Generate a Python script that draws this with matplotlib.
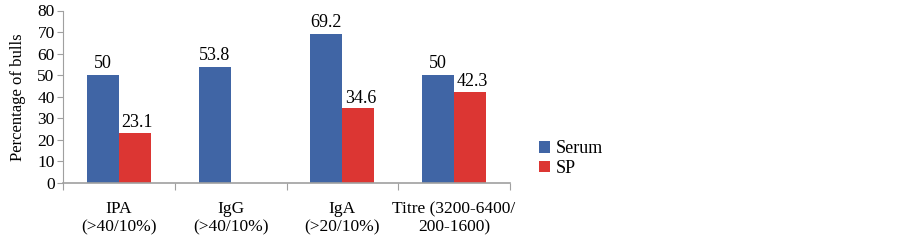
import numpy as np
import matplotlib.pyplot as plt

categories = ["IPA\n(>40/10%)", "IgG\n(>40/10%)", "IgA\n(>20/10%)", "Titre (3200-6400/\n200-1600)"]
serum = [50, 53.8, 69.2, 50]
sp = [23.1, None, 34.6, 42.3]
serum_labels = ["50", "53.8", "69.2", "50"]
sp_labels = ["23.1", "", "34.6", "42.3"]

plt.rcParams['font.family'] = ['Liberation Serif', 'DejaVu Serif']

fig = plt.figure(figsize=(9.02, 2.4), dpi=100)
ax = fig.add_axes([63 / 902, 1 - 183 / 240, (510 - 63) / 902, (183 - 10.5) / 240])

x = np.arange(len(categories))
w = 0.286
blue = "#4065a5"
red = "#dc3633"

sp_vals = [v if v is not None else 0 for v in sp]
b1 = ax.bar(x - w / 2, serum, w, color=blue, label="Serum")
b2 = ax.bar(x + w / 2, sp_vals, w, color=red, label="SP")

for i in range(len(categories)):
    ax.text(x[i] - w / 2, serum[i] + 1.5, serum_labels[i], ha="center", va="bottom", fontsize=13)
    if sp[i] is not None:
        ax.text(x[i] + w / 2 + 0.02, sp[i] + 0.8, sp_labels[i], ha="center", va="bottom", fontsize=13)

ax.set_xlim(-0.5, len(categories) - 0.5)
ax.set_ylim(0, 80)
ax.set_yticks(range(0, 81, 10))
ax.tick_params(axis="y", labelsize=12.5, length=4, color="#a0a0a0", pad=2)
ax.set_xticks(np.arange(-0.5, len(categories), 1))
ax.set_xticklabels([])
ax.tick_params(axis="x", length=5, color="#a0a0a0")
ax.set_xticks(x, minor=True)
ax.set_xticklabels(categories, minor=True, fontsize=12.5, linespacing=1.2)
ax.tick_params(axis="x", which="minor", length=0, pad=13)

for s in ["top", "right"]:
    ax.spines[s].set_visible(False)
ax.spines["left"].set_color("#a0a0a0")
ax.spines["bottom"].set_color("#a0a0a0")
ax.spines["bottom"].set_linewidth(1.2)

ax.set_ylabel("Percentage of bulls", fontsize=12, labelpad=8)

fig.legend(handles=[b1, b2], loc="upper left", bbox_to_anchor=(532 / 902, 1 - 133 / 240),
           frameon=False, fontsize=13, handlelength=0.6, handleheight=0.6,
           handletextpad=0.3, labelspacing=0.15, borderaxespad=0)

fig.savefig("out.png", dpi=100)
